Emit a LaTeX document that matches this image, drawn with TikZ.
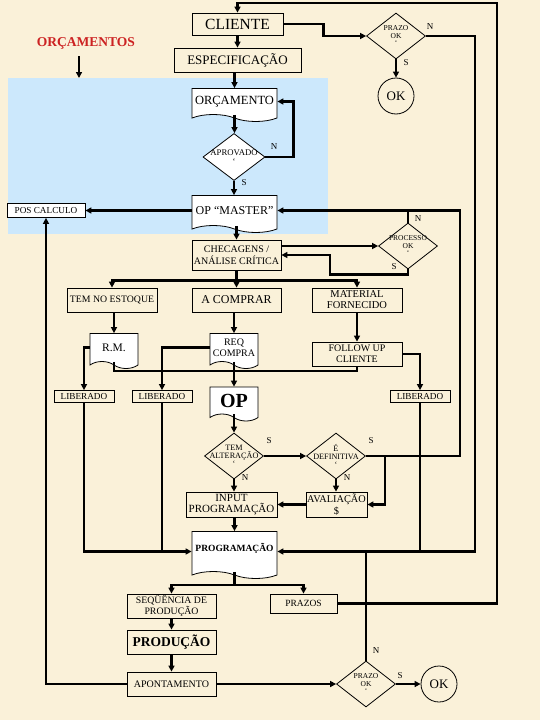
\documentclass[tikz,border=0pt]{standalone}
\usepackage{fontspec}
\setmainfont{Liberation Serif}
\usetikzlibrary{arrows.meta, shapes.geometric, shapes.symbols}
\definecolor{paper}{RGB}{250,241,217}
\definecolor{sky}{RGB}{204,232,252}
\definecolor{redlabel}{RGB}{204,34,34}
\newcommand{\fsz}[2]{\fontsize{#1}{#2}\selectfont}

\begin{document}
\begin{tikzpicture}[
    % GLOBAL CFG
    x=1pt, y=-1pt,
    >={Triangle[length=6pt,width=6pt]},
    font=\fsz{9}{10},
    % Styles
    box/.style={% For the process boxes
        rectangle,
        draw,
        line width=.8pt,
        inner sep=1pt,
        align=center,
        },
    docu/.style={% For the document boxes
        tape,
        tape bend top=none,
        tape bend bottom=out and in,
        tape bend height=7pt,
        draw,
        fill=white,
        line width=.8pt,
        inner sep=1pt,
        align=center,
        },
    decision/.style={% For the questions
        diamond,
        draw,
        line width=.8pt,
        inner sep=-5pt,
        aspect=1.28,
        minimum width=59pt,
        minimum height=46pt,
        align=center,
        font=\fsz{8}{8},
        },
    term/.style={% For the OK ends
        circle,
        draw,
        line width=.8pt,
        minimum size=36pt,
        inner sep=0pt,
        font=\fsz{13}{13},
        },
    yn/.style={% For the S and N marks
        inner sep=0pt,
        font=\fsz{9}{9},
        },
    flow/.style={% For the thick connectors
        line width=2.2pt,
        },
    ]

    % Paper and the budget area
    \fill[paper] (0,0) rectangle (540,720);
    \fill[sky] (8,78) rectangle (328,234);

    % Budget part
    \node[font=\bfseries\fsz{13.5}{14}, text=redlabel] (orcs) at (86,43) {ORÇAMENTOS};
    \coordinate (budget) at (79,78);
    \node[box, minimum width=91pt, minimum height=22pt, font=\fsz{15.5}{16}] (cliente) at (237.5,24) {CLIENTE};
    \node[box, minimum width=127pt, minimum height=24pt, font=\fsz{13}{14}] (espec) at (237.5,60) {ESPECIFICAÇÃO};
    \node[docu, minimum width=85pt, minimum height=33pt, font=\fsz{12.5}{13}] (orcam) at (234.5,101.5) {ORÇAMENTO};
    \node[decision, fill=white, minimum width=62pt, minimum height=47pt, font=\fsz{8.7}{8.7}] (aprov) at (234,157) {APROVADO\\`};
    \node[docu, minimum width=85pt, minimum height=37pt, font=\fsz{12}{13}] (master) at (234.5,210.5) {OP “MASTER”};
    \node[box, fill=white, minimum width=78pt, minimum height=14pt, font=\fsz{9.2}{9.5}] (poscalc) at (46,210.5) {POS CALCULO};
    \node[decision, font=\fsz{7.5}{7.5}] (prazo1) at (396,36) {PRAZO\\OK\\`};
    \node[term] (ok1) at (396,96) {OK};

    % Order part
    \node[box, minimum width=89pt, minimum height=30pt, font=\fsz{10}{12}] (checag) at (236.5,255) {CHECAGENS /\\ANÁLISE CRÍTICA};
    \node[decision, font=\fsz{7.5}{7.5}] (processo) at (408,246) {PROCESSO\\OK\\`};
    \node[box, minimum width=90pt, minimum height=24pt, font=\fsz{9.8}{10}] (estoque) at (112,300) {TEM NO ESTOQUE};
    \node[box, minimum width=89pt, minimum height=24pt, font=\fsz{12}{12}] (comprar) at (236.5,300) {A COMPRAR};
    \node[box, minimum width=90pt, minimum height=24pt, font=\fsz{10.5}{11}] (material) at (357,300) {MATERIAL\\FORNECIDO};
    \node[docu, minimum width=48pt, minimum height=35pt, font=\fsz{11.5}{12}] (rm) at (114,347.5) {R.M.};
    \node[docu, minimum width=48pt, minimum height=35pt, font=\fsz{10}{11}] (req) at (234,347.5) {REQ\\COMPRA};
    \node[box, minimum width=90pt, minimum height=24pt, font=\fsz{10}{11}] (follow) at (357,354) {FOLLOW UP\\CLIENTE};
    \node[box, minimum width=60pt, minimum height=12pt, font=\fsz{9.2}{9.5}] (lib1) at (84,396.5) {LIBERADO};
    \node[box, minimum width=60pt, minimum height=12pt, font=\fsz{9.2}{9.5}] (lib2) at (162,396.5) {LIBERADO};
    \node[box, minimum width=60pt, minimum height=12pt, font=\fsz{9.2}{9.5}] (lib3) at (420,396.5) {LIBERADO};
    \node[docu, minimum width=48pt, minimum height=34pt, font=\bfseries\fsz{20}{20}] (op) at (234,400.5) {OP};
    \node[decision, font=\fsz{8.2}{8.2}] (alter) at (234,456) {TEM\\ALTERAÇÃO\\`};
    \node[decision, font=\fsz{8.2}{8.2}] (defin) at (336,456) {É\\DEFINITIVA\\`};
    \node[box, minimum width=91pt, minimum height=25pt, font=\fsz{11}{11.5}] (input) at (231.5,504.5) {INPUT\\PROGRAMAÇÃO};
    \node[box, minimum width=61pt, minimum height=25pt, font=\fsz{10.3}{11.5}] (avali) at (336.5,504.5) {AVALIAÇÃO\\\$};
    \node[docu, minimum width=85pt, minimum height=47pt, text depth=8pt, font=\bfseries\fsz{9.5}{10}] (progr) at (234.5,551.5) {PROGRAMAÇÃO};

    % Production part
    \coordinate (split) at (234.5,585);
    \node[box, minimum width=89pt, minimum height=24pt, font=\fsz{9.8}{11}] (seq) at (171.5,606) {SEQÜÊNCIA DE\\PRODUÇÃO};
    \node[box, minimum width=67pt, minimum height=19pt, font=\fsz{9.5}{10}] (prazos) at (303.5,603.5) {PRAZOS};
    \node[box, minimum width=89pt, minimum height=24pt, font=\bfseries\fsz{13.5}{14}] (producao) at (171.5,642) {PRODUÇÃO};
    \node[box, minimum width=89pt, minimum height=24pt, font=\fsz{10}{10}] (apont) at (171.5,684) {APONTAMENTO};
    \node[decision, font=\fsz{7.5}{7.5}] (prazo2) at (366,684) {PRAZO\\OK\\`};
    \node[term] (ok2) at (439,684) {OK};

    % Rails on the right
    \coordinate (topright) at (497,3);
    \coordinate (railR) at (475,0);
    \coordinate (railM) at (460,0);

    % S and N marks
    \node[yn] (nPz1) at (430,27) {N};
    \node[yn] (sPz1) at (406,63) {S};
    \node[yn] (nApr) at (274,147) {N};
    \node[yn] (sApr) at (244,183) {S};
    \node[yn] (nPro) at (418,219) {N};
    \node[yn] (sPro) at (394,267) {S};
    \node[yn] (sAlt) at (269,441) {S};
    \node[yn] (nAlt) at (245,478) {N};
    \node[yn] (sDef) at (371,441) {S};
    \node[yn] (nDef) at (347,478) {N};
    \node[yn] (nPz2) at (376,651) {N};
    \node[yn] (sPz2) at (400,676) {S};

% Start connecting all.
    % Budget
    \draw[flow,->] (orcs.south -| budget) ++(0,4) -- (budget);
    \draw[flow,->] (prazos.east) -| (topright) -| (cliente.north);
    \draw[flow,->] (cliente) -- (espec);
    \draw[flow,->] (cliente.east) -- ++(40,0) |- (prazo1.west);
    \draw[flow,->] (prazo1.south) -- (ok1.north);
    \draw[flow,->] (prazo1.east) -| (railR |- progr.east) -- (progr.east);
    \draw[flow,->] (espec.south -| orcam.north) -- (orcam.north);
    \draw[flow,->] (orcam.south) -- (orcam.south |- aprov.north);
    \draw[flow,->] (aprov.east) -- ++(28,0) |- (orcam.east);
    \draw[flow,->] (aprov.south) -- (aprov.south |- master.north);
    \draw[flow,->] (master.west) -- (poscalc.east);
    \draw[flow,->] (apont.west) -| (poscalc.south);

    % Order
    \draw[flow,->] (master.south -| checag.north) -- (checag.north);
    \draw[flow,->] (checag.east |- processo.west) -- (processo.west);
    \draw[flow,->] (processo.south) -- ++(0,5) -- ++(-78,0) |- (checag.east);
    \draw[flow,->] (defin.east) -| (railM |- master.east) -- (master.east);
    \draw[flow] (processo.north) -- (processo.north |- master.east);
    \draw[flow,->] (defin.east) ++(19,0) |- (avali.east);
    \draw[flow,->] (checag.south) -- (comprar.north);
    \draw[flow,->] (checag.south) ++(0,10) -| (estoque.north);
    \draw[flow,->] (checag.south) ++(0,10) -| (material.north);
    \draw[flow,->] (estoque.south -| rm.north) -- (rm.north);
    \draw[flow,->] (rm.west) -| (lib1.north);
    \draw[flow] (rm.south) -- ++(0,9) -| (follow.south);
    \draw[flow,->] (comprar.south -| req.north) -- (req.north);
    \draw[flow,->] (req.west) -| (lib2.north);
    \draw[flow,->] (req.south) -- (op.north);
    \draw[flow,->] (material) -- (follow);
    \draw[flow,->] (follow.east) -| (lib3.north);
    \draw[flow,->] (lib1.south) |- (progr.west);
    \draw[flow] (lib2.south) -- (lib2.south |- progr.west);
    \draw[flow] (lib3.south) -- (lib3.south |- progr.east);
    \draw[flow,->] (op.south) -- (alter.north);
    \draw[flow,->] (alter.east) -- (defin.west);
    \draw[flow,->] (alter.south) -- (alter.south |- input.north);
    \draw[flow,->] (defin.south) -- (defin.south |- avali.north);
    \draw[flow,->] (avali.west) -- (input.east);
    \draw[flow,->] (input.south -| progr.north) -- (progr.north);

    % Production
    \draw[flow] (progr.south) -- (split);
    \draw[flow,->] (split) -| (seq.north);
    \draw[flow,->] (split) -| (prazos.north);
    \draw[flow] (prazo2.north) -- (prazo2.north |- progr.east);
    \draw[flow,->] (seq) -- (producao);
    \draw[flow,->] (producao) -- (apont);
    \draw[flow,->] (apont.east) -- (prazo2.west);
    \draw[flow,->] (prazo2.east) -- (ok2.west);

\end{tikzpicture}
\end{document}
